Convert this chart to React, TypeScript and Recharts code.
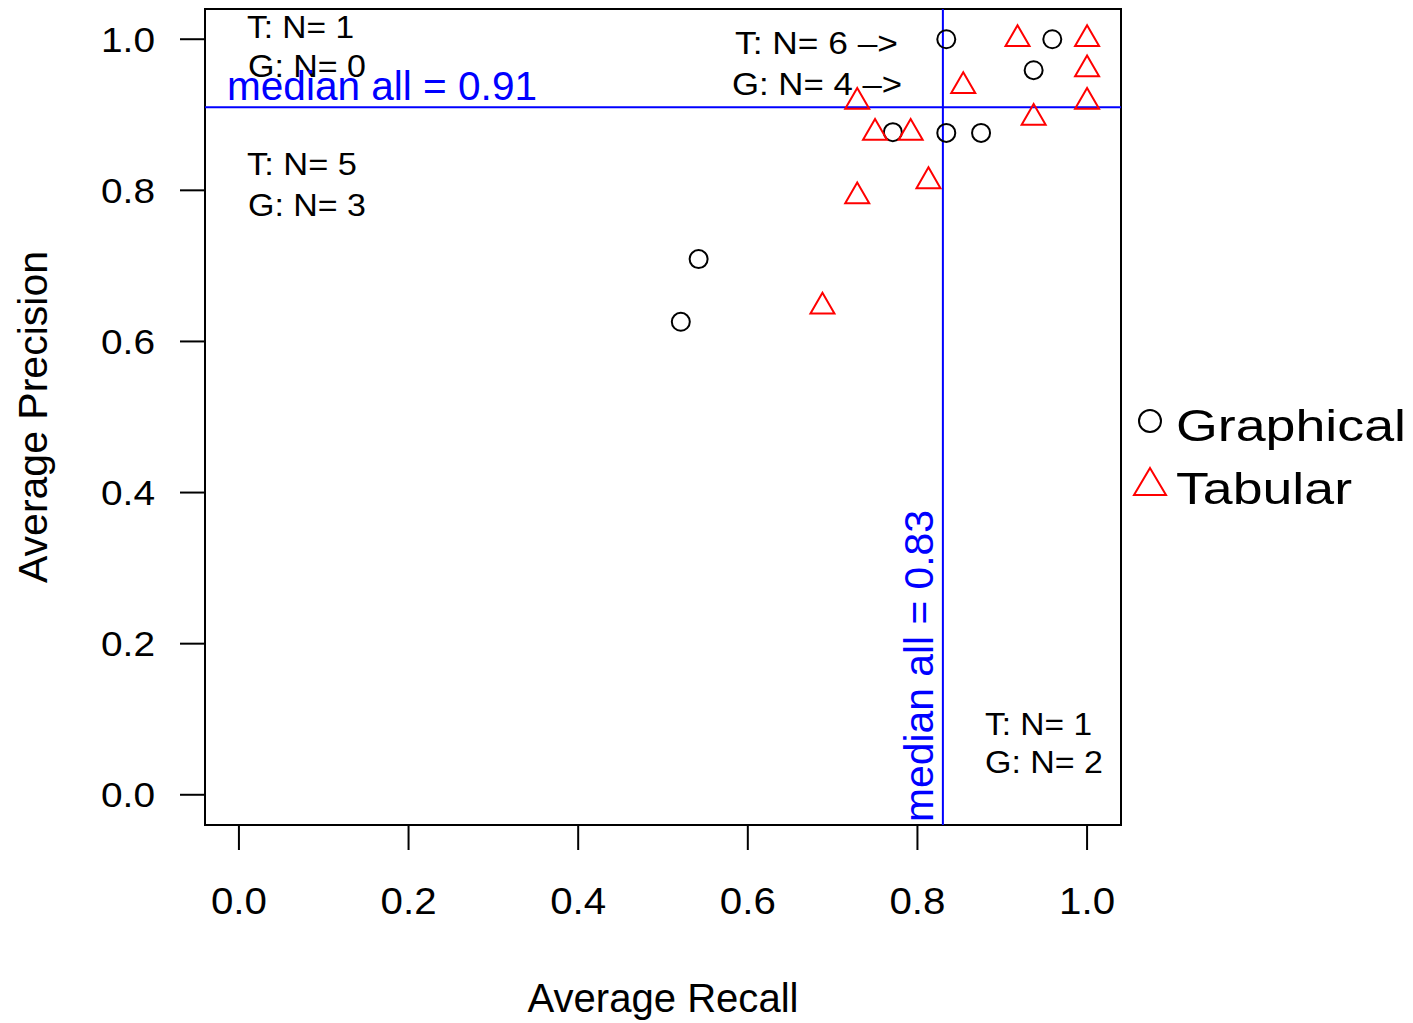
import React from "react"
import {
  ScatterChart,
  Scatter,
  XAxis,
  YAxis,
  ReferenceLine,
  ReferenceArea,
} from "recharts"

// recall / precision per participant
const graphicalRecall = [0.834, 0.959, 0.937, 0.771, 0.834, 0.875, 0.542, 0.521]
const graphicalPrecision = [1.0, 1.0, 0.959, 0.877, 0.876, 0.876, 0.709, 0.626]

const tabularRecall = [0.918, 1.0, 1.0, 1.0, 0.854, 0.729, 0.937, 0.75, 0.792, 0.813, 0.729, 0.688]
const tabularPrecision = [1.0, 1.0, 0.96, 0.917, 0.938, 0.917, 0.896, 0.876, 0.876, 0.812, 0.792, 0.646]

const axisTicks = [0, 0.2, 0.4, 0.6, 0.8, 1.0]
const medianRecall = 0.83
const medianPrecision = 0.91

const graphical = graphicalRecall.map((x, i) => ({ x, y: graphicalPrecision[i] }))
const tabular = tabularRecall.map((x, i) => ({ x, y: tabularPrecision[i] }))

const FONT = "'Liberation Sans', Arial, Helvetica, sans-serif"
const BLUE = "#0000ff"

const CircleMark = (props: any) => {
  const { cx, cy } = props
  return <circle cx={cx} cy={cy} r={9} fill="none" stroke="#000" strokeWidth={2} />
}

const TriangleMark = (props: any) => {
  const { cx, cy } = props
  const hw = 12
  const top = cy - 13.9
  const base = cy + 6.9
  return (
    <path
      d={`M${cx},${top} L${cx + hw},${base} L${cx - hw},${base} Z`}
      fill="none"
      stroke="#ff0000"
      strokeWidth={2}
    />
  )
}

const XTick = ({ x, y, payload }: any) => (
  <text
    x={x}
    y={y + 64}
    textAnchor="middle"
    fontFamily={FONT}
    fontSize={37}
    fill="#000"
    textLength={56}
    lengthAdjust="spacingAndGlyphs"
  >
    {Number(payload.value).toFixed(1)}
  </text>
)

const YTick = ({ x, y, payload }: any) => (
  <text
    x={x - 25}
    y={y + 12.5}
    textAnchor="end"
    fontFamily={FONT}
    fontSize={35}
    fill="#000"
    textLength={54}
    lengthAdjust="spacingAndGlyphs"
  >
    {Number(payload.value).toFixed(1)}
  </text>
)

const Note = ({ x, y, len, children, size = 32, color = "#000" }: any) => (
  <text
    x={x}
    y={y}
    fontFamily={FONT}
    fontSize={size}
    fill={color}
    textLength={len}
    lengthAdjust="spacingAndGlyphs"
  >
    {children}
  </text>
)

export default function App() {
  return (
    <div style={{ position: "absolute", left: 0, top: 0, width: 1413, height: 1023, background: "#fff" }}>
      <ScatterChart
        width={1413}
        height={1023}
        margin={{ top: 9, right: 292, bottom: 98, left: 105 }}
      >
        <XAxis
          type="number"
          dataKey="x"
          domain={[-0.04, 1.04]}
          ticks={axisTicks}
          allowDataOverflow
          axisLine={false}
          tickSize={25}
          tickMargin={0}
          tickLine={{ stroke: "#000", strokeWidth: 2 }}
          tick={<XTick />}
          height={100}
        />
        <YAxis
          type="number"
          dataKey="y"
          domain={[-0.04, 1.04]}
          ticks={axisTicks}
          allowDataOverflow
          axisLine={false}
          tickSize={25}
          tickMargin={0}
          tickLine={{ stroke: "#000", strokeWidth: 2 }}
          tick={<YTick />}
          width={100}
        />
        <ReferenceArea
          x1={-0.04}
          x2={1.04}
          y1={-0.04}
          y2={1.04}
          fill="none"
          fillOpacity={0}
          stroke="#000"
          strokeWidth={2}
          ifOverflow="visible"
        />
        <ReferenceLine y={medianPrecision} stroke={BLUE} strokeWidth={2} />
        <ReferenceLine x={medianRecall} stroke={BLUE} strokeWidth={2} />
        <Scatter
          name="Graphical"
          data={graphical}
          shape={<CircleMark />}
          isAnimationActive={false}
        />
        <Scatter
          name="Tabular"
          data={tabular}
          shape={<TriangleMark />}
          isAnimationActive={false}
        />
      </ScatterChart>
      <svg
        width={1413}
        height={1023}
        style={{ position: "absolute", left: 0, top: 0, pointerEvents: "none" }}
      >
        <Note x={247} y={38} len={107}>T: N= 1</Note>
        <Note x={248} y={77} len={118}>G: N= 0</Note>
        <Note x={227} y={100} len={310} size={40} color={BLUE}>median all = 0.91</Note>
        <Note x={247} y={175} len={110}>T: N= 5</Note>
        <Note x={248} y={216} len={118}>G: N= 3</Note>
        <Note x={735} y={54} len={163}>T: N= 6 –&gt;</Note>
        <Note x={732} y={95} len={170}>G: N= 4 –&gt;</Note>
        <Note x={985} y={735} len={107}>T: N= 1</Note>
        <Note x={985} y={773} len={118}>G: N= 2</Note>
        <g transform="rotate(-90 933 822)">
          <Note x={933} y={822} len={312} size={40} color={BLUE}>median all = 0.83</Note>
        </g>
        <text
          x={663}
          y={1012}
          textAnchor="middle"
          fontFamily={FONT}
          fontSize={40}
          fill="#000"
          textLength={271}
          lengthAdjust="spacingAndGlyphs"
        >
          Average Recall
        </text>
        <g transform="rotate(-90 47 417)">
          <text
            x={47}
            y={417}
            textAnchor="middle"
            fontFamily={FONT}
            fontSize={40}
            fill="#000"
            textLength={332}
            lengthAdjust="spacingAndGlyphs"
          >
            Average Precision
          </text>
        </g>
        {/* legend */}
        <circle cx={1150} cy={421} r={11} fill="none" stroke="#000" strokeWidth={2} />
        <Note x={1176} y={441} len={230} size={44}>Graphical</Note>
        <path d="M1150,468 L1166,495 L1134,495 Z" fill="none" stroke="#ff0000" strokeWidth={2} />
        <Note x={1176} y={504} len={176} size={44}>Tabular</Note>
      </svg>
    </div>
  )
}
